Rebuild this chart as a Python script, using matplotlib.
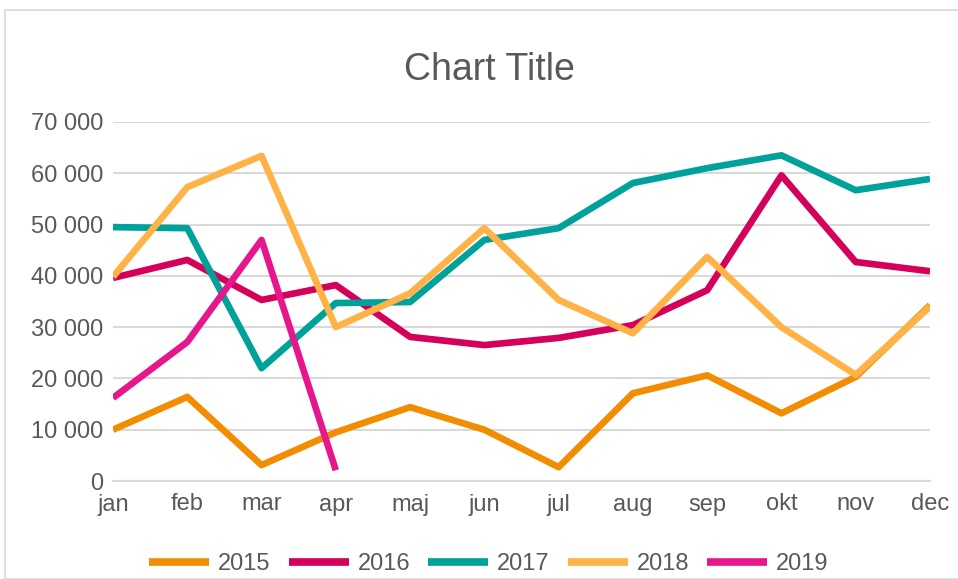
import matplotlib
matplotlib.use("Agg")
import matplotlib.pyplot as plt
from matplotlib.patches import Rectangle
from matplotlib.ticker import FuncFormatter

months = ["jan", "feb", "mar", "apr", "maj", "jun", "jul", "aug", "sep", "okt", "nov", "dec"]
s2015 = [10000, 16400, 3100, 9500, 14400, 10000, 2700, 17100, 20600, 13200, 20300, 34300]
s2016 = [39600, 43100, 35300, 38200, 28100, 26500, 27900, 30400, 37200, 59600, 42700, 40900]
s2017 = [49500, 49300, 22000, 34700, 34900, 47000, 49300, 58100, 61000, 63500, 56700, 58900]
s2018 = [39800, 57300, 63400, 30000, 36600, 49300, 35300, 28800, 43700, 30000, 20700, 34000]
s2019 = [16200, 27100, 47000, 2100]
series_names = ["2015", "2016", "2017", "2018", "2019"]
colors = ["#F28C00", "#D4005A", "#00A19A", "#FFB347", "#E6168C"]

plt.rcParams['font.family'] = ['Liberation Sans', 'DejaVu Sans']
text_col = "#595959"

fig = plt.figure(figsize=(9.58, 5.79), dpi=100)
W, H = 958, 579
# chart border
fig.patches.append(Rectangle((5 / W, 0), 1.1, 1 - 10 / H, transform=fig.transFigure,
                             fill=False, edgecolor="#D9D9D9", linewidth=1.2))

ax = fig.add_axes([113 / W, (H - 481) / H, (930 - 113) / W, (481 - 122) / H])
x = list(range(len(months)))
data = [s2015, s2016, s2017, s2018, s2019]
for name, vals, c in zip(series_names, data, colors):
    ax.plot(x[:len(vals)], vals, color=c, linewidth=4.8, label=name,
            solid_joinstyle='round', solid_capstyle='butt', zorder=3)

ax.set_xlim(0, len(months) - 1)
ax.set_ylim(0, 70000)
ax.set_yticks(range(0, 70001, 10000))
ax.yaxis.set_major_formatter(FuncFormatter(lambda v, p: f"{int(v):,}".replace(",", " ")))
ax.set_xticks(x)
ax.set_xticklabels(months)
ax.grid(axis='y', color="#D9D9D9", linewidth=1.5, zorder=0)
ax.set_axisbelow(True)
for s in ["top", "right", "left"]:
    ax.spines[s].set_visible(False)
ax.spines["bottom"].set_color("#D9D9D9")
ax.spines["bottom"].set_linewidth(1.5)
ax.tick_params(axis='both', length=0, labelsize=17, labelcolor=text_col)
ax.tick_params(axis='x', pad=9)
ax.tick_params(axis='y', pad=7)

fig.text(489 / W, 1 - 80 / H, "Chart Title", ha='center', va='baseline', fontsize=27, color=text_col)

leg = fig.legend(loc='center', bbox_to_anchor=(489 / W, 1 - 564 / H), ncol=5, frameon=False,
                 fontsize=17, handlelength=2.54, handletextpad=0.38, columnspacing=0.76)
for t in leg.get_texts():
    t.set_color(text_col)
for l in leg.get_lines():
    l.set_linewidth(5.5)
    l.set_solid_capstyle('butt')

fig.savefig("out.png", dpi=100)
